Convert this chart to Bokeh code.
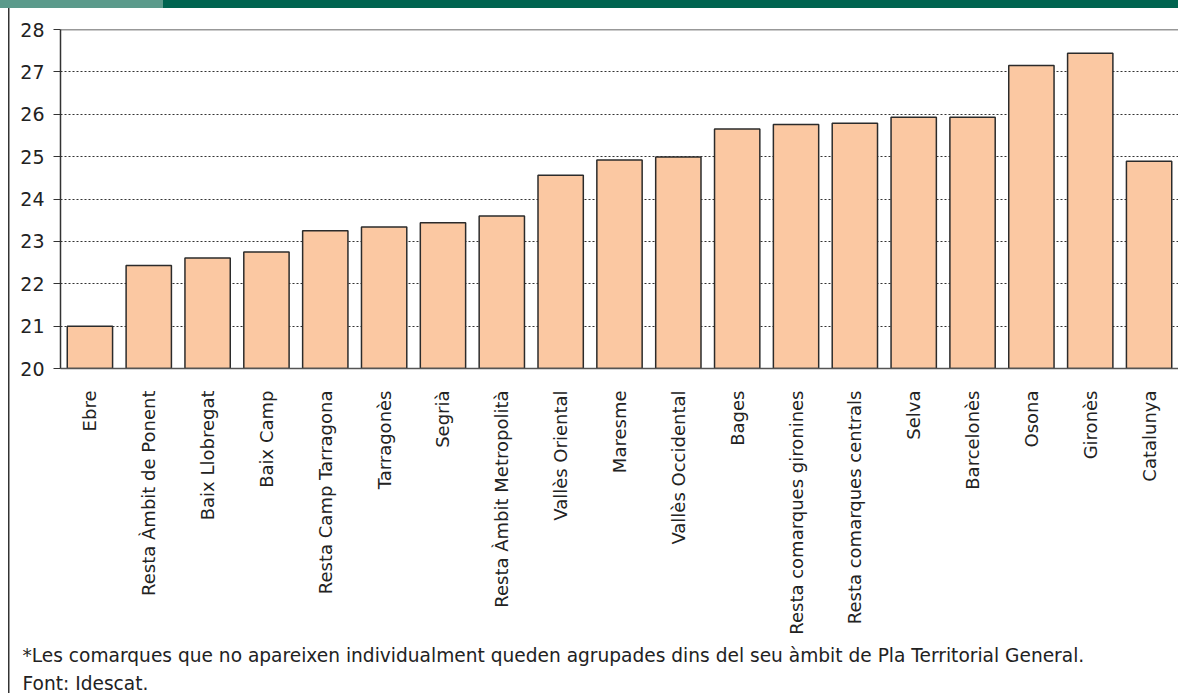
import math
from bokeh.plotting import figure
from bokeh.models import Span, Title, FixedTicker, Range1d
from bokeh.embed import file_html
from bokeh.resources import INLINE

categories = ["Ebre", "Resta Àmbit de Ponent", "Baix Llobregat", "Baix Camp",
              "Resta Camp Tarragona", "Tarragonès", "Segrià", "Resta Àmbit Metropolità",
              "Vallès Oriental", "Maresme", "Vallès Occidental", "Bages",
              "Resta comarques gironines", "Resta comarques centrals", "Selva",
              "Barcelonès", "Osona", "Gironès", "Catalunya"]
values = [21.0, 22.43, 22.61, 22.75, 23.25, 23.34, 23.44, 23.6, 24.56, 24.92,
          24.99, 25.65, 25.76, 25.79, 25.93, 25.93, 27.15, 27.44, 24.89]
y_ticks = [20, 21, 22, 23, 24, 25, 26, 27, 28]
footnote1 = "*Les comarques que no apareixen individualment queden agrupades dins del seu àmbit de Pla Territorial General."
footnote2 = "Font: Idescat."

FONT = "DejaVu Sans"
TXT = "#222222"

W, H = 1178, 693
LEFT, TOP, BOTTOM = 60, 29, 324

page_bg = ("linear-gradient(to right, #5B9A8B 0px, #5B9A8B 163px, #006450 163px, #006450 100%) "
           "0px 0px / 100% 8px no-repeat, "
           "linear-gradient(#333333, #333333) 8px 8px / 1.5px calc(100% - 8px) no-repeat, "
           "#ffffff")

p = figure(x_range=categories, y_range=Range1d(20, 28), width=W, height=H,
           output_backend="svg", toolbar_location=None,
           min_border_left=LEFT, min_border_right=0, min_border_top=TOP,
           min_border_bottom=BOTTOM, styles={"background": page_bg})
p.x_range.range_padding = 0
p.outline_line_color = None
p.background_fill_color = "white"
p.border_fill_color = None

p.vbar(x=categories, top=values, bottom=20, width=0.77,
       fill_color="#FBC8A2", line_color="#2b2b2b", line_width=1.5)

# axes
p.yaxis.ticker = FixedTicker(ticks=y_ticks)
p.yaxis.major_tick_out = 7
p.yaxis.major_tick_in = 0
p.yaxis.minor_tick_line_color = None
p.yaxis.axis_line_color = "#333333"
p.yaxis.axis_line_width = 1.5
p.yaxis.major_tick_line_color = "#333333"
p.yaxis.major_label_standoff = 9
p.yaxis.major_label_text_font = FONT
p.yaxis.major_label_text_font_size = "19px"
p.yaxis.major_label_text_color = TXT

p.xaxis.major_tick_line_color = None
p.xaxis.minor_tick_line_color = None
p.xaxis.axis_line_color = "#555555"
p.xaxis.axis_line_width = 1.5
p.xaxis.major_label_orientation = math.pi / 2
p.xaxis.major_label_standoff = 16
p.xaxis.major_label_text_font = FONT
p.xaxis.major_label_text_font_size = "18px"
p.xaxis.major_label_text_color = TXT

p.xgrid.grid_line_color = None
p.ygrid.ticker = FixedTicker(ticks=y_ticks[1:-1])
p.ygrid.grid_line_color = "#333333"
p.ygrid.grid_line_dash = "2 2"
p.ygrid.grid_line_width = 1

p.add_layout(Span(location=28, dimension="width", line_color="#333333", line_width=1.5))

for txt, so in ((footnote1, 10), (footnote2, 0)):
    p.add_layout(Title(text=txt, align="left", offset=22 - LEFT, standoff=so,
                       text_font=FONT, text_font_size="18.6px", text_font_style="normal",
                       text_color=TXT), "below")

open("out.html", "w").write(file_html(p, INLINE))
